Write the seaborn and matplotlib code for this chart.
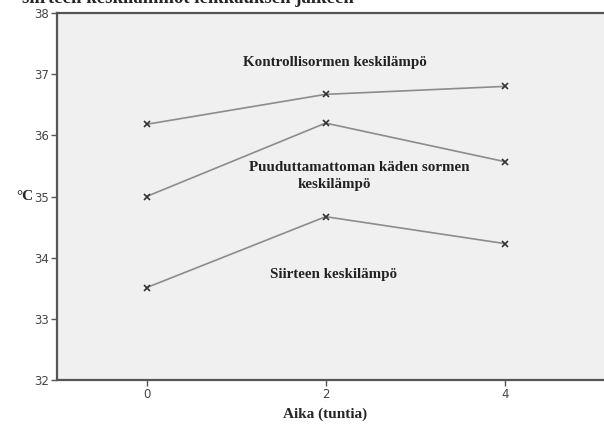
import matplotlib; matplotlib.use('Agg')
import pandas as pd
import numpy as np
import seaborn as sns
import matplotlib.pyplot as plt

# values
aika = [0, 2, 4]
kontrolli = [36.18, 36.67, 36.80]
puuduttamaton = [35.00, 36.20, 35.57]
siirre = [33.51, 34.67, 34.23]

sarjat = {
    "Kontrolli": kontrolli,
    "Puuduttamaton": puuduttamaton,
    "Siirre": siirre,
}
rows = []
for nimi, arvot in sarjat.items():
    for t, v in zip(aika, arvot):
        rows.append({"aika": t, "lampo": v, "sarja": nimi})
df = pd.DataFrame(rows)

sns.set_style("white")
serif = ['Liberation Serif', 'DejaVu Serif']

fig = plt.figure(figsize=(6.04, 4.30), dpi=100)
ax = fig.add_axes([57 / 604, 50 / 430, 582 / 604, 367 / 430])
ax.set_facecolor('#f0f0f0')

for nimi in sarjat:
    sns.lineplot(data=df[df['sarja'] == nimi], x='aika', y='lampo', ax=ax,
                 color='#8c8c8c', linewidth=1.2, marker='x', markersize=4,
                 markeredgecolor='#333333', markeredgewidth=1.2, legend=False)

# series labels
lbl = dict(fontsize=10.8, fontweight='bold', family=serif, color='#222222',
           ha='center', va='center')
ax.text(2.10, 37.19, "Kontrollisormen keskilämpö", **lbl)
ax.text(2.38, 35.48, "Puuduttamattoman käden sormen", **lbl)
ax.text(2.10, 35.20, "keskilämpö", **lbl)
ax.text(2.09, 33.72, "Siirteen keskilämpö", **lbl)

ax.set_xlim(-1, 5.5)
ax.set_ylim(32, 38)
ax.set_xticks([0, 2, 4])
ax.set_yticks([32, 33, 34, 35, 36, 37, 38])
ax.tick_params(axis='both', bottom=True, left=True, length=4, width=1,
               color='#555555', labelcolor='#444444', labelsize=8.5, pad=1.5,
               direction='out')

for s in ['left', 'bottom', 'top']:
    ax.spines[s].set_color('#555555')
    ax.spines[s].set_linewidth(1.6)
ax.spines['right'].set_visible(False)

ax.set_xlabel("Aika (tuntia)", fontsize=11, fontweight='bold', family=serif)
ax.xaxis.set_label_coords((325 - 57) / 582, -(408 - 380) / 367)
ax.set_ylabel("°C", fontsize=11, fontweight='bold', family=serif, rotation=0,
              va='center', ha='center')
ax.yaxis.set_label_coords(-(57 - 25) / 582, (380 - 196) / 367)

# title, cut at the top edge as in the reference
fig.text(22 / 604, 1 - 3 / 430, "siirteen keskilämmöt leikkauksen jälkeen",
         fontsize=13.5, fontweight='bold', family=serif, va='baseline', ha='left')

fig.savefig('out.png', dpi=100)
